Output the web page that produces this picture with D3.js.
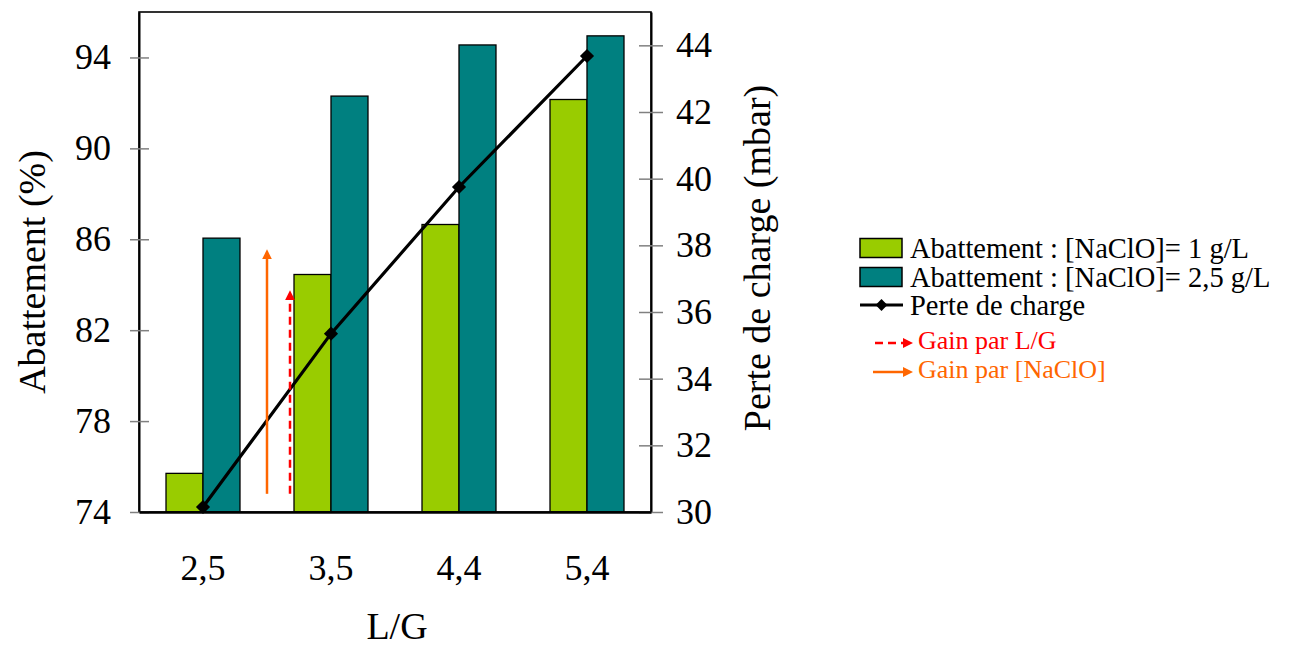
<!DOCTYPE html>
<html>
<head>
<meta charset="utf-8">
<script src="https://cdn.jsdelivr.net/npm/d3@7"></script>
<style>
  html, body { margin: 0; padding: 0; background: #fff; }
  svg { display: block; }
  svg text { font-family: "Liberation Serif", "Times New Roman", serif; }
</style>
</head>
<body>
<svg id="chart" width="1302" height="646" font-family="Liberation Serif"></svg>
<script>
// ---- data ----
const categories = ["2,5", "3,5", "4,4", "5,4"];
const abat1 = [75.7, 84.45, 86.65, 92.15];      // [NaClO] = 1 g/L
const abat25 = [86.05, 92.3, 94.55, 94.95];     // [NaClO] = 2,5 g/L
const perte = [30.15, 35.35, 39.75, 43.68];      // mbar
const leftTicks = [74, 78, 82, 86, 90, 94];
const rightTicks = [30, 32, 34, 36, 38, 40, 42, 44];
const seriesNames = ["Abattement : [NaClO]= 1 g/L", "Abattement : [NaClO]= 2,5 g/L", "Perte de charge"];
const gainNames = ["Gain par L/G", "Gain par [NaClO]"];
// annotation arrows (left-axis units): start, end
const gainLGArrow = [74.8, 83.8];
const gainNaArrow = [74.8, 85.6];

// ---- layout ----
const FONT = "Liberation Serif";
const svg = d3.select("#chart");
const L = 139, R = 651, T = 12, B = 512;
const green = "#99CC00", teal = "#008080", orange = "#FF6600", red = "#FF0000";

const x = d3.scaleBand().domain(categories).range([L, R]).padding(0);
const xs = d3.scaleBand().domain([0, 1]).range([0, x.bandwidth()]).paddingInner(0).paddingOuter(0.73);
const yL = d3.scaleLinear().domain([74, 96]).range([B, T]);
const yR = d3.scaleLinear().domain([30, 45]).range([B, T]);

// bars
const barData = [abat1, abat25];
const barColors = [green, teal];
barData.forEach((vals, s) => {
  svg.append("g").selectAll("rect").data(vals).join("rect")
    .attr("x", (d, i) => x(categories[i]) + xs(s))
    .attr("width", xs.bandwidth())
    .attr("y", d => yL(d))
    .attr("height", d => yL(74) - yL(d))
    .attr("fill", barColors[s])
    .attr("stroke", "#000")
    .attr("stroke-width", 1.3);
});

// frame
svg.append("rect").attr("x", L).attr("y", T).attr("width", R - L).attr("height", B - T)
  .attr("fill", "none").attr("stroke", "#000").attr("stroke-width", 1.6);

// left axis
const axL = d3.axisLeft(yL).tickValues(leftTicks).tickSize(0).tickPadding(28).tickFormat(d3.format("d"));
const gL = svg.append("g").attr("transform", `translate(${L},0)`).call(axL);
gL.select(".domain").attr("stroke", "#000").attr("stroke-width", 2);
gL.selectAll(".tick text").attr("font-size", 36).attr("font-family", FONT).attr("fill", "#000");
gL.selectAll(".tick").append("line").attr("x1", -9).attr("x2", 10).attr("stroke", "#808080").attr("stroke-width", 1.5);

// right axis
const axR = d3.axisRight(yR).tickValues(rightTicks).tickSize(0).tickPadding(25).tickFormat(d3.format("d"));
const gR = svg.append("g").attr("transform", `translate(${R},0)`).call(axR);
gR.select(".domain").attr("stroke", "#000").attr("stroke-width", 2);
gR.selectAll(".tick text").attr("font-size", 36).attr("font-family", FONT).attr("fill", "#000");
gR.selectAll(".tick").append("line").attr("x1", -12).attr("x2", 12).attr("stroke", "#808080").attr("stroke-width", 1.5);

// bottom axis
const axB = d3.axisBottom(x).tickSize(0).tickPadding(42);
const gB = svg.append("g").attr("transform", `translate(0,${B})`).call(axB);
gB.select(".domain").attr("stroke", "#000").attr("stroke-width", 2.5);
gB.selectAll(".tick text").attr("font-size", 36).attr("font-family", FONT).attr("fill", "#000");

// axis titles
svg.append("text").attr("transform", "translate(45,272) rotate(-90)")
  .attr("text-anchor", "middle").attr("font-family", FONT).attr("font-size", 38).text("Abattement (%)");
svg.append("text").attr("transform", "translate(770,258) rotate(-90)")
  .attr("text-anchor", "middle").attr("font-family", FONT).attr("font-size", 38).text("Perte de charge (mbar)");
svg.append("text").attr("x", 397).attr("y", 639)
  .attr("text-anchor", "middle").attr("font-family", FONT).attr("font-size", 38).text("L/G");

// line
const xc = (d, i) => x(categories[i]) + x.bandwidth() / 2;
svg.append("path").datum(perte)
  .attr("d", d3.line().x(xc).y(d => yR(d)))
  .attr("fill", "none").attr("stroke", "#000").attr("stroke-width", 3.2);
svg.append("g").selectAll("path").data(perte).join("path")
  .attr("d", d3.symbol().type(d3.symbolSquare).size(100))
  .attr("transform", (d, i) => `translate(${xc(d, i)},${yR(d)}) rotate(45)`)
  .attr("fill", "#000");

// markers for arrows
const defs = svg.append("defs");
[["arrRed", red], ["arrOrange", orange]].forEach(([id, c]) => {
  defs.append("marker").attr("id", id).attr("viewBox", "0 0 10 10")
    .attr("refX", 2).attr("refY", 5).attr("markerWidth", 4).attr("markerHeight", 4.5)
    .attr("markerUnits", "strokeWidth").attr("orient", "auto")
    .append("path").attr("d", "M0,0 L10,5 L0,10 Z").attr("fill", c);
});

// gain arrows in plot
const midX = (x(categories[0]) + x.bandwidth() / 2 + x(categories[1]) + x.bandwidth() / 2) / 2;
const redX = x(categories[1]) + xs(0) - 4;
svg.append("line").attr("x1", midX).attr("x2", midX)
  .attr("y1", yL(gainNaArrow[0])).attr("y2", yL(gainNaArrow[1]) + 9)
  .attr("stroke", orange).attr("stroke-width", 2.5).attr("marker-end", "url(#arrOrange)");
svg.append("line").attr("x1", redX).attr("x2", redX)
  .attr("y1", yL(gainLGArrow[0])).attr("y2", yL(gainLGArrow[1]) + 9)
  .attr("stroke", red).attr("stroke-width", 2.5).attr("stroke-dasharray", "8,5")
  .attr("marker-end", "url(#arrRed)");

// legend
const lg = svg.append("g");
const lx = 860, textX = 910;
const rowY = [248, 277, 305];
[green, teal].forEach((c, i) => {
  lg.append("rect").attr("x", lx).attr("y", rowY[i] - 9.5).attr("width", 42).attr("height", 19)
    .attr("fill", c).attr("stroke", "#000").attr("stroke-width", 1.5);
});
lg.append("line").attr("x1", lx).attr("x2", lx + 43).attr("y1", rowY[2]).attr("y2", rowY[2])
  .attr("stroke", "#000").attr("stroke-width", 3);
lg.append("path").attr("d", d3.symbol().type(d3.symbolSquare).size(70))
  .attr("transform", `translate(${lx + 21.5},${rowY[2]}) rotate(45)`).attr("fill", "#000");
seriesNames.forEach((n, i) => {
  lg.append("text").attr("x", textX).attr("y", rowY[i] + 10).attr("font-family", FONT)
    .attr("font-size", 28.5).text(n);
});

const gainY = [343, 372];
const gainCol = [red, orange];
lg.append("line").attr("x1", 875).attr("x2", 905).attr("y1", gainY[0]).attr("y2", gainY[0])
  .attr("stroke", red).attr("stroke-width", 2.5).attr("stroke-dasharray", "8,5")
  .attr("marker-end", "url(#arrRed)");
lg.append("line").attr("x1", 873).attr("x2", 905).attr("y1", gainY[1]).attr("y2", gainY[1])
  .attr("stroke", orange).attr("stroke-width", 2.5).attr("marker-end", "url(#arrOrange)");
gainNames.forEach((n, i) => {
  lg.append("text").attr("x", 918).attr("y", gainY[i] + 6).attr("font-family", FONT)
    .attr("font-size", 26).attr("fill", gainCol[i]).text(n);
});
</script>
</body>
</html>
